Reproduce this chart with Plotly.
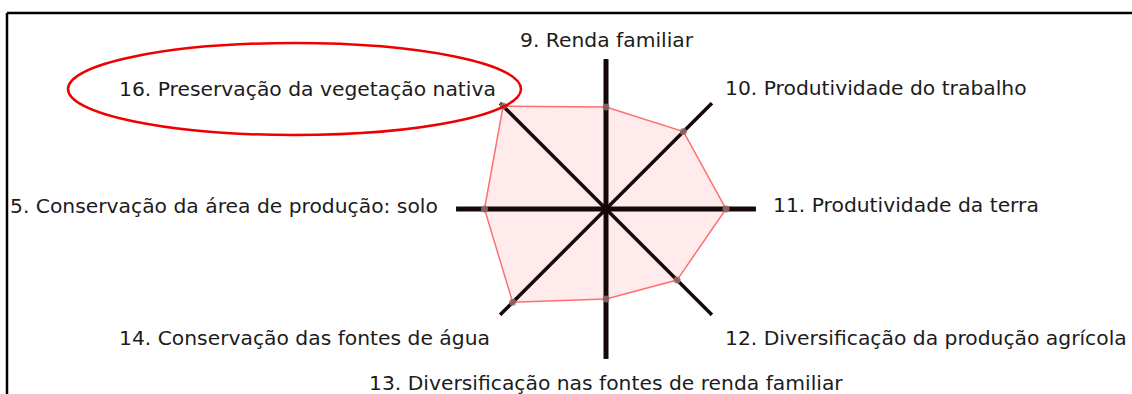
import plotly.graph_objects as go

# axes of the radar, clockwise from the top
categories = ['9', '10', '11', '12', '13', '14', '15', '16']
axis_labels = [
    '9. Renda familiar',
    '10. Produtividade do trabalho',
    '11. Produtividade da terra',
    '12. Diversificação da produção agrícola',
    '13. Diversificação nas fontes de renda familiar',
    '14. Conservação das fontes de água',
    '5. Conservação da área de produção: solo',
    '16. Preservação da vegetação nativa',
]
# indicator values (0-1 scale)
values = [0.68, 0.73, 0.80, 0.67, 0.60, 0.88, 0.81, 0.97]
axis_max = 1.0

W, H = 1132, 394


def px(x):
    return x / W


def py(y):
    return 1 - y / H


fig = go.Figure()

# shaded polygon
fig.add_trace(go.Scatterpolar(
    r=values + values[:1],
    theta=categories + categories[:1],
    mode='lines',
    fill='toself',
    fillcolor='rgba(255, 90, 90, 0.12)',
    line=dict(color='#ff6f6f', width=1.5),
    hoverinfo='skip',
))

# spokes: horizontal/vertical thicker than diagonals
for i, cat in enumerate(categories):
    fig.add_trace(go.Scatterpolar(
        r=[0, axis_max],
        theta=[cat, cat],
        mode='lines',
        line=dict(color='#140808', width=5 if i % 2 == 0 else 3.5),
        hoverinfo='skip',
    ))

# vertex markers
fig.add_trace(go.Scatterpolar(
    r=values,
    theta=categories,
    mode='markers',
    marker=dict(color='rgba(150, 110, 110, 0.85)', size=7),
    hoverinfo='skip',
))

# label placement (pixel anchor, xanchor)
label_pos = [
    (607, 40, 'center'),
    (723, 88, 'left'),
    (771, 205, 'left'),
    (723, 338, 'left'),
    (606, 383, 'center'),
    (492, 338, 'right'),
    (8, 206, 'left'),
    (117, 89, 'left'),
]
annotations = []
for text, (x, y, anc) in zip(axis_labels, label_pos):
    annotations.append(dict(
        x=px(x), y=py(y), xref='paper', yref='paper',
        text=text, showarrow=False, xanchor=anc, yanchor='middle',
        font=dict(family='DejaVu Sans', size=20.3, color='#1c1c1c'),
    ))

shapes = [
    # frame
    dict(type='line', xref='paper', yref='paper', x0=px(7), x1=1.05, y0=py(13), y1=py(13),
         line=dict(color='black', width=2.5)),
    dict(type='line', xref='paper', yref='paper', x0=px(7), x1=px(7), y0=py(13), y1=-0.05,
         line=dict(color='black', width=2.5)),
    # highlight ellipse
    dict(type='circle', xref='paper', yref='paper', x0=px(68), x1=px(521), y0=py(135), y1=py(43),
         line=dict(color='#ee0000', width=2.5)),
]

fig.update_layout(
    width=W, height=H,
    margin=dict(l=0, r=0, t=0, b=0),
    paper_bgcolor='white',
    showlegend=False,
    polar=dict(
        domain=dict(x=[px(456), px(756)], y=[py(359), py(59)]),
        bgcolor='rgba(0,0,0,0)',
        radialaxis=dict(visible=False, range=[0, axis_max]),
        angularaxis=dict(
            direction='clockwise', rotation=90,
            showline=False, showgrid=False, showticklabels=False, ticks='',
        ),
    ),
    annotations=annotations,
    shapes=shapes,
)

# drop the default page margin so the figure sits at the window's corner
fig.write_html('out.html', config={'displayModeBar': False},
               post_script="document.body.style.margin='0';")
